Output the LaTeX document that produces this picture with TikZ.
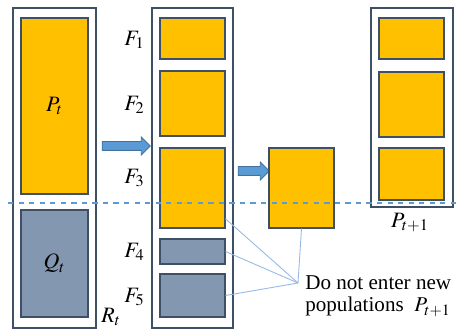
\documentclass[tikz,border=0pt]{standalone}
\usepackage{mathptmx}
\usepackage{fontspec}
\setmainfont{Liberation Serif}
\usepackage{tikz}
\usetikzlibrary{positioning,shapes.arrows,fit}
\definecolor{popgold}{RGB}{255,192,0}
\definecolor{popgrey}{RGB}{132,151,176}
\definecolor{edgeslate}{RGB}{62,80,102}
\definecolor{arrowblue}{RGB}{91,155,213}
\definecolor{arrowrim}{RGB}{65,113,156}
\definecolor{hintblue}{RGB}{150,185,228}
\tikzset{
  frame/.style={rectangle,draw=edgeslate,line width=0.9pt,fill=white,inner sep=0pt},
  goldset/.style={rectangle,draw=edgeslate,line width=0.6pt,fill=popgold,inner sep=0pt},
  greyset/.style={rectangle,draw=edgeslate,line width=0.6pt,fill=popgrey,inner sep=0pt},
  blockarrow/.style={single arrow,draw=arrowrim,fill=arrowblue,line width=0.5pt,inner xsep=0pt,inner ysep=0.08cm,single arrow head extend=0.09cm},
  setname/.style={inner sep=0pt,font=\fontsize{12.5}{14}\selectfont},
  flabel/.style={setname,anchor=east},
  hint/.style={draw=hintblue,line width=0.5pt}
}

\begin{document}
\begin{tikzpicture}[x=0.02cm,y=-0.02cm,font=\fontsize{12}{12}\selectfont]
  \useasboundingbox (0,0) rectangle (457,331);
  % combined population R_t
  \node[frame,fit={(13,8) (96,328)}] (Rt) {};
  \node[goldset,fit={(21,18) (88,194)}] (Pt) {};
  \node[greyset,fit={(21,210) (88,317)}] (Qt) {};
  \node[setname] (Ptlab) at (Pt) {$P_t$};
  \node[setname] (Qtlab) at (Qt) {$Q_t$};
  \node[setname,anchor=north west] (Rlab) at (101,308) {$R_t$};
  \node[blockarrow,minimum height=0.96cm] (sort) at (124,146) {};
  % non-dominated fronts
  \node[frame,fit={(152,8) (233,328)}] (fronts) {};
  \node[goldset,fit={(160,18) (225,59)}] (F1) {};
  \node[goldset,fit={(160,71) (225,136)}] (F2) {};
  \node[goldset,fit={(160,148) (225,228)}] (F3) {};
  \node[greyset,fit={(160,239) (225,264)}] (F4) {};
  \node[greyset,fit={(160,274) (225,317)}] (F5) {};
  \node[flabel] (F1lab) at (145,40) {$F_1$};
  \node[flabel] (F2lab) at (145,105) {$F_2$};
  \node[flabel] (F3lab) at (145,178) {$F_3$};
  \node[flabel] (F4lab) at (145,252) {$F_4$};
  \node[flabel] (F5lab) at (145,297) {$F_5$};
  % crowding distance sorting of F_3
  \node[blockarrow,minimum height=0.62cm] (crowd) at (251.5,171) {};
  \node[goldset,fit={(269,148) (334,228)}] (F3cut) {};
  % new population
  \node[frame,fit={(371,8) (453,207)}] (Pnext) {};
  \node[goldset,fit={(379,18) (444,59)}] (N1) {};
  \node[goldset,fit={(379,72) (444,137)}] (N2) {};
  \node[goldset,fit={(379,148) (444,200)}] (N3) {};
  \node[setname,anchor=north] (Plab) at (410,213) {$P_{t+1}$};
  % cut line
  \coordinate (cutL) at (8,203);
  \coordinate (cutR) at (457,203);
  \draw[arrowblue,dashed,line width=0.8pt] (cutL) -- (cutR);
  % rejected members
  \coordinate (meet) at (298,283);
  \node[anchor=north west,align=left,inner sep=0pt] (note) at (305,275)
    {Do not enter new\\[1pt]populations \ $P_{t+1}$};
  \draw[hint] (F3.-43) -- (meet);
  \draw[hint] (F4.east) -- (meet);
  \draw[hint] (F5.east) -- (meet);
  \draw[hint] (F3cut.south) -- (meet);
\end{tikzpicture}
\end{document}
